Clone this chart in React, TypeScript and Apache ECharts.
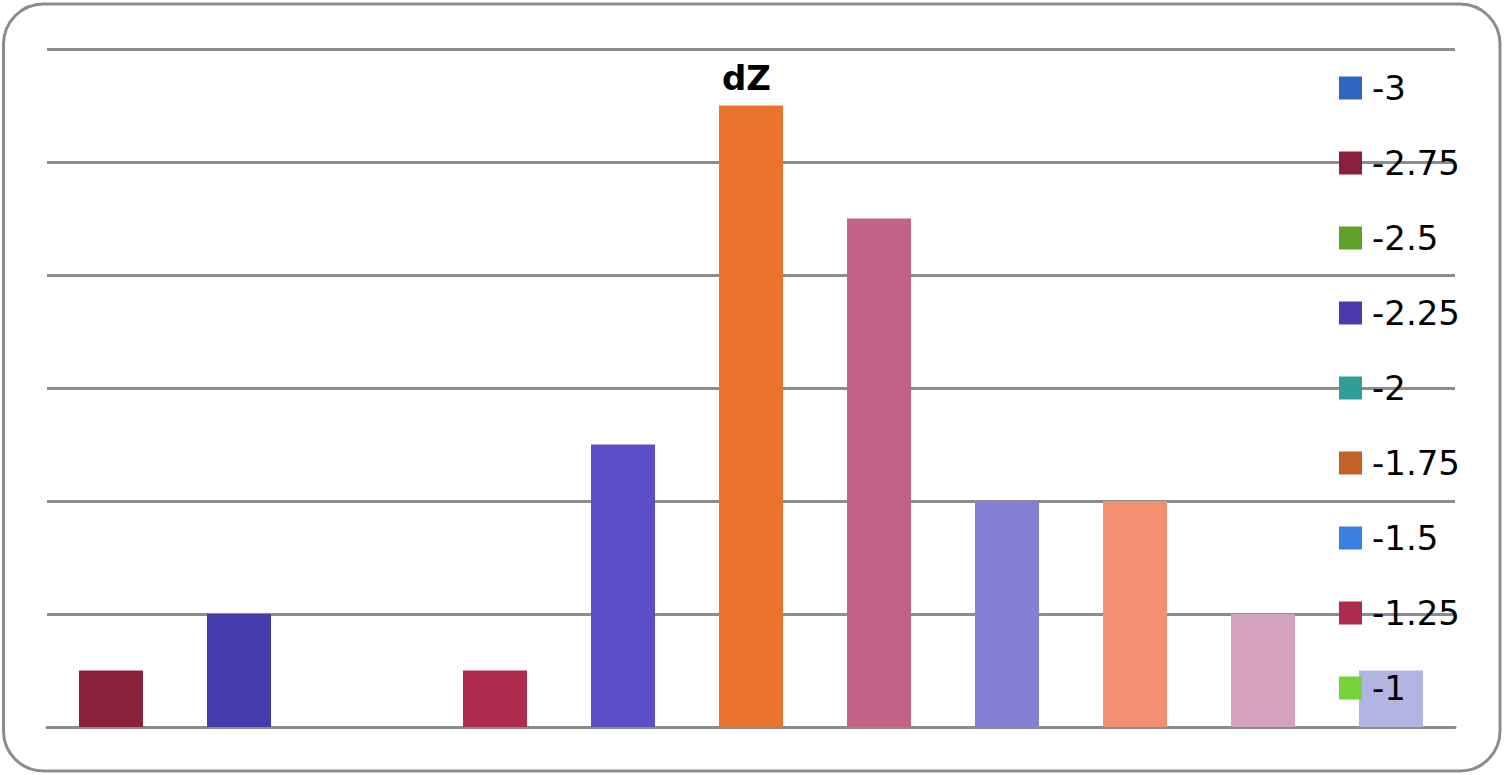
import React, { useEffect, useRef } from "react";
import * as echarts from "echarts";

const slotNames = ["-3", "-2.75", "-2.5", "-2.25", "-2", "-1.75", "-1.5", "-1.25", "-1", "-0.75", "-0.5"];
const legendNames = ["-3", "-2.75", "-2.5", "-2.25", "-2", "-1.75", "-1.5", "-1.25", "-1"];
const legendColors = ["#2f67c0", "#8b203e", "#5fa22a", "#4a3aac", "#2e9f97", "#c0622a", "#3a80e0", "#b02a50", "#76d33a", "#8580d4", "#b3b4e2"];
const barValues = [0.5, 1, 0, 0.5, 2.5, 5.5, 4.5, 2, 2, 1, 0.5];
const barColors = ["#8b203c", "#453cac", "#6a9a3a", "#b0294e", "#5b4ec8", "#eb7330", "#c36287", "#8580d4", "#f39072", "#d4a2bf", "#b3b4e2"];
const yTicks = [0, 1, 2, 3, 4, 5, 6];

export default function App() {
  const ref = useRef<HTMLDivElement>(null);
  useEffect(() => {
    if (!ref.current) return;
    const chart = echarts.init(ref.current, null, { renderer: "svg" });
    const series = slotNames.map((name, i) => ({
      name,
      type: "bar",
      stack: "all",
      barWidth: "50%",
      itemStyle: { color: legendColors[i] },
      data: slotNames.map((_, j) =>
        j === i ? { value: barValues[i], itemStyle: { color: barColors[i] } } : "-"
      ),
    }));
    chart.setOption({
      animation: false,
      textStyle: { fontFamily: "DejaVu Sans" },
      title: {
        text: "dZ",
        left: 722,
        top: 61,
        padding: 0,
        textStyle: { fontFamily: "DejaVu Sans", fontWeight: "bold", fontSize: 34, color: "#000" },
      },
      legend: {
        data: legendNames,
        orient: "vertical",
        left: 1339,
        top: 71,
        padding: 0,
        itemWidth: 23,
        itemHeight: 23,
        itemGap: 41,
        icon: "rect",
        selectedMode: false,
        textStyle: { fontFamily: "DejaVu Sans", fontSize: 34, color: "#000", padding: [0, 0, 0, 5] },
      },
      grid: { left: 47, right: 49, top: 49, bottom: 48, containLabel: false },
      xAxis: {
        type: "category",
        data: slotNames,
        axisLine: { show: true, lineStyle: { color: "#8c8c8c", width: 3 } },
        axisTick: { show: false },
        axisLabel: { show: false },
      },
      yAxis: {
        type: "value",
        min: yTicks[0],
        max: yTicks[yTicks.length - 1],
        interval: 1,
        axisLine: { show: false },
        axisTick: { show: false },
        axisLabel: { show: false },
        splitLine: { show: true, lineStyle: { color: "#8c8c8c", width: 3 } },
      },
      graphic: [
        {
          type: "rect",
          silent: true,
          z: 100,
          shape: { x: 3.5, y: 4, width: 1496.5, height: 767, r: 40 },
          style: { fill: "none", stroke: "#8c8c8c", lineWidth: 3 },
        },
      ],
      series,
    });
    return () => chart.dispose();
  }, []);
  return (
    <div
      ref={ref}
      style={{ position: "absolute", left: 0, top: 0, width: 1504, height: 775, background: "#fff" }}
    />
  );
}
